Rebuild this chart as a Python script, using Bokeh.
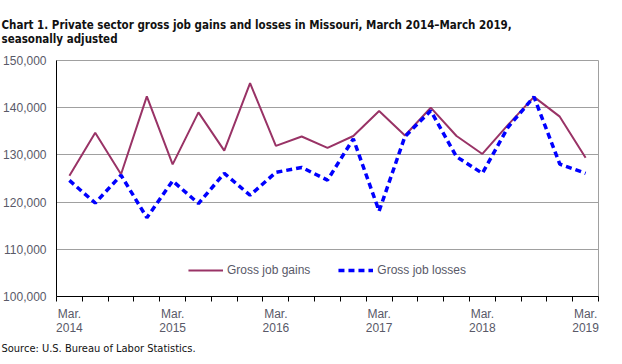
from bokeh.plotting import figure
from bokeh.models import (ColumnDataSource, FixedTicker, Range1d, Legend, LegendItem,
                          NumeralTickFormatter, Title)
from bokeh.embed import file_html
from bokeh.resources import INLINE

quarters = ["Mar. 2014", "Jun. 2014", "Sep. 2014", "Dec. 2014",
            "Mar. 2015", "Jun. 2015", "Sep. 2015", "Dec. 2015",
            "Mar. 2016", "Jun. 2016", "Sep. 2016", "Dec. 2016",
            "Mar. 2017", "Jun. 2017", "Sep. 2017", "Dec. 2017",
            "Mar. 2018", "Jun. 2018", "Sep. 2018", "Dec. 2018",
            "Mar. 2019"]
gains = [125600, 134700, 125900, 142400, 128000, 139000, 130900, 145200,
         131900, 133900, 131500, 134000, 139300, 134100, 140000, 134000,
         130200, 136400, 142300, 138100, 129400]
losses = [124600, 119800, 125700, 116700, 124500, 119700, 126100, 121450,
          126300, 127350, 124650, 133400, 118100, 133900, 139350, 129600,
          126100, 135900, 142300, 128050, 126100]
tick_labels = {0: "Mar.\n2014", 4: "Mar.\n2015", 8: "Mar.\n2016",
               12: "Mar.\n2017", 16: "Mar.\n2018", 20: "Mar.\n2019"}
y_ticks = [100000, 110000, 120000, 130000, 140000, 150000]

idx = list(range(len(quarters)))
src = ColumnDataSource(dict(x=idx, q=quarters, gains=gains, losses=losses))

TXT = "#595968"
FONT = "Liberation Sans"
NARROW = "'Liberation Sans Narrow', 'DejaVu Sans Condensed', 'Arial Narrow', sans-serif"

p = figure(width=606, height=356, output_backend="svg", toolbar_location=None,
           x_range=Range1d(-0.5, len(quarters) - 0.5), y_range=Range1d(100000, 150000),
           min_border_left=55, min_border_right=8, min_border_top=10, min_border_bottom=0)

p.title.text = "Chart 1. Private sector gross  job gains and losses  in Missouri,  March 2014\u2013March  2019,\nseasonally adjusted"
p.title.text_font = NARROW
p.title.text_font_size = "11.5px"
p.title.text_font_style = "bold"
p.title.text_color = "#111111"
p.title.offset = -55
p.title.standoff = 30

g = p.line("x", "gains", source=src, line_color="#993366", line_width=2)
l = p.line("x", "losses", source=src, line_color="#0000FF", line_width=3.5,
           line_dash="6 4")

# x axis: labels at category centres, ticks at boundaries
xa = p.xaxis[0]
xa.ticker = FixedTicker(ticks=sorted(tick_labels.keys()),
                        minor_ticks=[i - 0.5 for i in range(len(quarters) + 1)])
xa.major_label_overrides = tick_labels
xa.major_tick_out = 0
xa.major_tick_in = 0
xa.minor_tick_out = 5
xa.minor_tick_in = 0
xa.minor_tick_line_color = "black"
xa.axis_line_color = "black"
xa.major_label_text_font = FONT
xa.major_label_text_font_size = "12px"
xa.major_label_text_color = TXT
xa.major_label_text_line_height = 1.0
xa.major_label_standoff = 5

ya = p.yaxis[0]
ya.ticker = FixedTicker(ticks=y_ticks)
ya.formatter = NumeralTickFormatter(format="0,0")
ya.major_tick_out = 0
ya.major_tick_in = 0
ya.minor_tick_out = 0
ya.minor_tick_in = 0
ya.axis_line_color = "black"
ya.major_label_text_font = FONT
ya.major_label_text_font_size = "12px"
ya.major_label_text_color = TXT
ya.major_label_standoff = 10

p.xgrid.grid_line_color = None
p.ygrid.grid_line_color = "#A0A0A0"
p.ygrid.ticker = FixedTicker(ticks=y_ticks)
p.outline_line_color = "#A0A0A0"
p.background_fill_color = "white"
p.border_fill_color = "white"

legend = Legend(items=[LegendItem(label="Gross job gains", renderers=[g]),
                       LegendItem(label="Gross job losses", renderers=[l])],
                orientation="horizontal", location="bottom_center",
                border_line_color=None, background_fill_alpha=0,
                label_text_font=FONT, label_text_font_size="12px",
                label_text_color=TXT, glyph_width=35, spacing=28,
                margin=16, padding=0, label_standoff=4)
p.add_layout(legend)

src_note = Title(text="Source: U.S. Bureau of Labor Statistics.", align="left",
                 text_font=NARROW, text_font_size="11px",
                 text_font_style="normal", text_color="#111111", offset=-55,
                 standoff=4, vertical_align="bottom")
p.add_layout(src_note, "below")

open("out.html", "w").write(file_html(p, INLINE))
